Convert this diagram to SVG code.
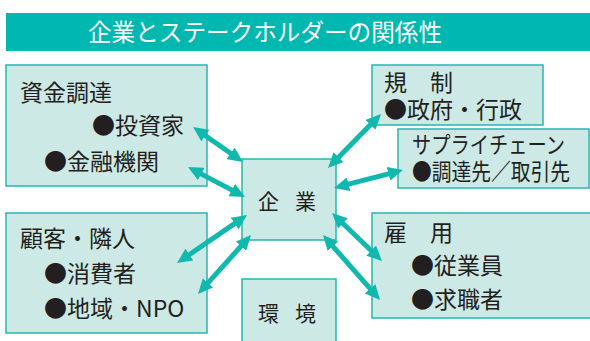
<svg xmlns="http://www.w3.org/2000/svg" width="590" height="341" viewBox="0 0 590 341">
<style>
.box{fill:#cce9e6;stroke:#22b9b0;stroke-width:1.5}
.t{font-family:"Noto Sans CJK JP","Noto Sans",sans-serif;font-size:23px;fill:#231f20}
.c{font-family:"Noto Sans CJK JP","Noto Sans",sans-serif;font-size:21px;fill:#231f20;letter-spacing:16px}
.ttl{font-family:"Noto Sans CJK JP","Noto Sans",sans-serif;font-size:24px;fill:#ffffff}
.arr{stroke:#10b8ae;stroke-width:5;fill:none;marker-start:url(#ah);marker-end:url(#ah)}
</style>
<defs>
<marker id="ah" markerUnits="userSpaceOnUse" markerWidth="15" markerHeight="14" viewBox="0 0 15 14" refX="2" refY="7" orient="auto-start-reverse">
<path d="M0,0 L15,7 L0,14 z" fill="#10b8ae"/>
</marker>
</defs>
<rect width="590" height="341" fill="#ffffff"/>
<g id="title">
<rect x="6" y="13" width="584" height="38" fill="#00b8b0"/>
<text class="ttl" x="88" y="41" textLength="354" lengthAdjust="spacingAndGlyphs">企業とステークホルダーの関係性</text>
</g>
<g id="shikin">
<rect class="box" x="6" y="65" width="201" height="121"/>
<text class="t" x="20" y="101">資金調達</text>
<text class="t" x="92" y="134">●投資家</text>
<text class="t" x="44" y="170">●金融機関</text>
</g>
<g id="kokyaku">
<rect class="box" x="6" y="213" width="201" height="120"/>
<text class="t" x="20" y="247">顧客・隣人</text>
<text class="t" x="44" y="282">●消費者</text>
<text class="t" x="44" y="317">●地域・NPO</text>
</g>
<g id="kisei">
<rect class="box" x="372" y="65" width="171" height="60"/>
<text class="t" x="384" y="91">規　制</text>
<text class="t" x="384" y="118">●政府・行政</text>
</g>
<g id="supply">
<rect class="box" x="398" y="129" width="191" height="59"/>
<text class="t" x="412" y="153" textLength="153" lengthAdjust="spacingAndGlyphs">サプライチェーン</text>
<text class="t" x="412" y="180" textLength="158" lengthAdjust="spacingAndGlyphs">●調達先／取引先</text>
</g>
<g id="koyou">
<rect class="box" x="372" y="213" width="222" height="105"/>
<text class="t" x="384" y="241">雇　用</text>
<text class="t" x="411" y="274">●従業員</text>
<text class="t" x="411" y="308">●求職者</text>
</g>
<g id="kigyou">
<rect class="box" x="242" y="159" width="94" height="81"/>
<text class="c" x="258" y="209">企業</text>
</g>
<g id="kankyou">
<rect class="box" x="242" y="279" width="94" height="70"/>
<text class="c" x="258" y="321">環境</text>
</g>
<g id="connectors">
<line class="arr" x1="203.7" y1="134.5" x2="232.3" y2="154.5"/>
<line class="arr" x1="199.5" y1="173.1" x2="233.5" y2="190.9"/>
<line class="arr" x1="236.3" y1="222.4" x2="187.7" y2="255.7"/>
<line class="arr" x1="242.3" y1="244.7" x2="206.7" y2="284.3"/>
<line class="arr" x1="337.1" y1="158.7" x2="371.9" y2="123.3"/>
<line class="arr" x1="346.6" y1="184.7" x2="390.4" y2="173.3"/>
<line class="arr" x1="341.4" y1="222" x2="372.6" y2="252"/>
<line class="arr" x1="331.6" y1="244.8" x2="371.4" y2="290.2"/>
</g>
</svg>
